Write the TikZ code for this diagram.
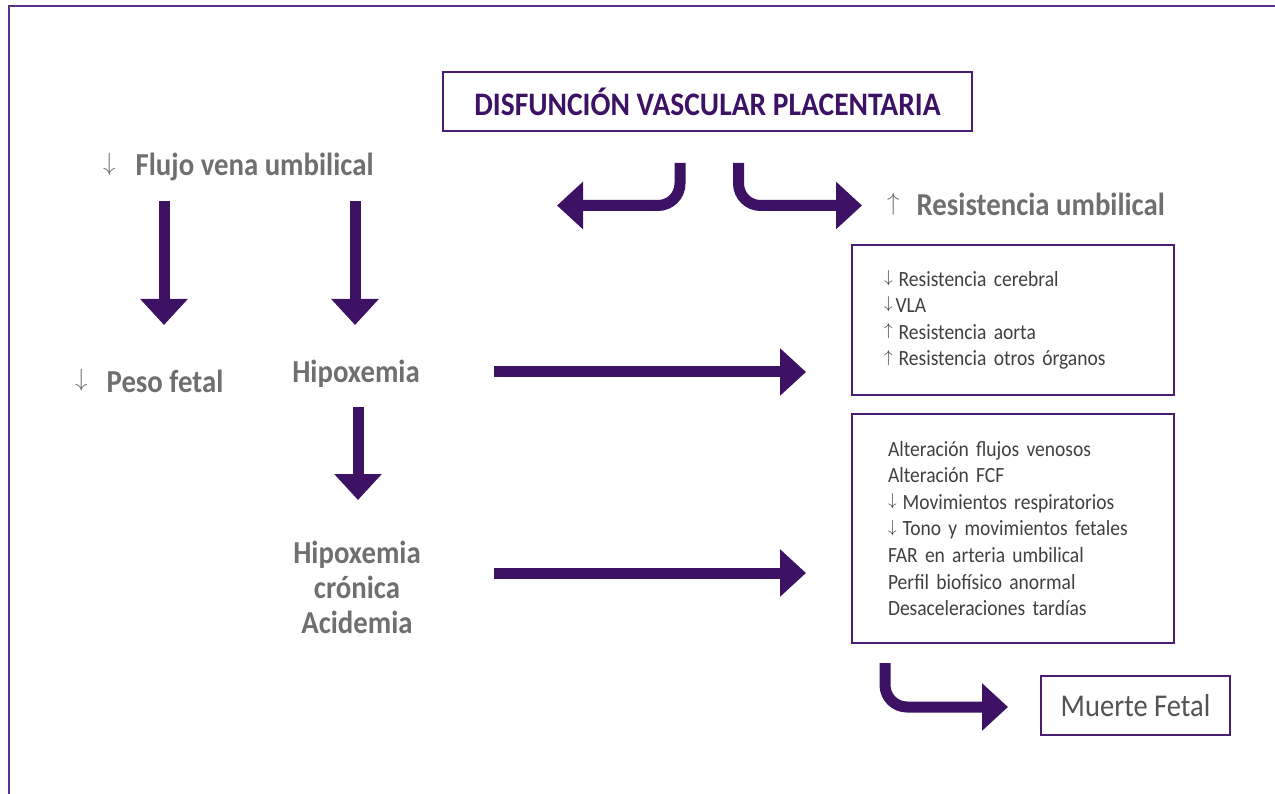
\documentclass[tikz,border=0pt]{standalone}
\usepackage{fontspec}
\setmainfont{Carlito}[FakeStretch=0.9]
\usetikzlibrary{arrows.meta}
\definecolor{arrowc}{HTML}{3D1163}
\definecolor{boxc}{HTML}{4A1C72}
\definecolor{framec}{HTML}{5B2E8C}
\definecolor{headc}{HTML}{6E6F71}
\definecolor{txtc}{HTML}{404040}
\definecolor{titlec}{HTML}{3D1163}
\newcommand{\bigdn}{{\fontsize{27}{27}\selectfont\raisebox{5.2pt}{$\downarrow$}}}
\newcommand{\bigup}{{\fontsize{27}{27}\selectfont\raisebox{5.2pt}{$\uparrow$}}}
\newcommand{\smdn}{{\fontsize{19}{19}\selectfont\raisebox{3.7pt}{$\downarrow$}}}
\newcommand{\smup}{{\fontsize{19}{19}\selectfont\raisebox{3.7pt}{$\uparrow$}}}
\tikzset{
  fat/.style={draw=arrowc, line width=11pt, -{Triangle[width=46pt,length=26pt]}, rounded corners=22pt},
  box/.style={draw=boxc, line width=2pt},
  head/.style={text=headc, font=\fontsize{32}{35}\selectfont\bfseries, inner sep=0pt},
  lst/.style={box, text=txtc, font=\fontsize{21.7}{26.6}\selectfont, align=left, minimum width=322pt}
}
\begin{document}
\begin{tikzpicture}[x=1pt,y=-1pt]
\useasboundingbox (0,0) rectangle (1275,794);
\draw[framec, line width=2.5pt] (9,794) -- (9,6) -- (1275,6);

% title
\node[box, minimum width=529pt, minimum height=59pt, text=titlec,
      font=\fontsize{32.8}{32.8}\selectfont\bfseries] (title) at (707.5,101.5) {DISFUNCIÓN VASCULAR PLACENTARIA};

% headings
\node[head, anchor=base west] (flujo) at (103,176) {\bigdn\hspace{20pt}Flujo vena umbilical};
\node[head, anchor=base west] (peso) at (75,392) {\bigdn\hspace{19pt}Peso fetal};
\node[head, anchor=base west] (resum) at (887,216) {\bigup\hspace{17pt}Resistencia umbilical};
\node[head, anchor=base] (hipo) at (356,382) {Hipoxemia};
\node[head, align=center] (hipoc) at (357,587) {Hipoxemia\\crónica\\Acidemia};

% boxes
\node[lst, text width=258pt, minimum height=150pt] (box1) at (1013,320)
  {\smdn\hspace{6pt}Resistencia cerebral\\
   \smdn\hspace{3pt}VLA\\
   \smup\hspace{6pt}Resistencia aorta\\
   \smup\hspace{6pt}Resistencia otros órganos};
\node[lst, text width=250pt, minimum height=229pt] (box2) at (1013,528.5)
  {Alteración flujos venosos\\
   Alteración FCF\\
   \smdn\hspace{6pt}Movimientos respiratorios\\
   \smdn\hspace{6pt}Tono y movimientos fetales\\
   FAR en arteria umbilical\\
   Perfil biofísico anormal\\
   Desaceleraciones tardías};
\node[box, text=txtc!90, font=\fontsize{31.7}{31.7}\selectfont, minimum width=189pt, minimum height=59pt] (muerte) at (1135.5,705.5) {Muerte Fetal};

% connector end points
\coordinate (cl0) at (680,163);  \coordinate (cl1) at (557,205.5);
\coordinate (cr0) at (738.5,163); \coordinate (cr1) at (862,205.5);
\coordinate (d10) at (164,201);  \coordinate (d11) at (164,325);
\coordinate (d20) at (355,201);  \coordinate (d21) at (355,325);
\coordinate (d30) at (358,407);  \coordinate (d31) at (358,500);
\coordinate (h10) at (494,372);  \coordinate (h11) at (806,372);
\coordinate (h20) at (494,573);  \coordinate (h21) at (806,573);
\coordinate (b0) at (885,663);   \coordinate (b1) at (1008,707);

\draw[fat] (cl0) |- (cl1);
\draw[fat] (cr0) |- (cr1);
\draw[fat] (d10) -- (d11);
\draw[fat] (d20) -- (d21);
\draw[fat] (d30) -- (d31);
\draw[fat] (h10) -- (h11);
\draw[fat] (h20) -- (h21);
\draw[fat] (b0) |- (b1);
\end{tikzpicture}
\end{document}
